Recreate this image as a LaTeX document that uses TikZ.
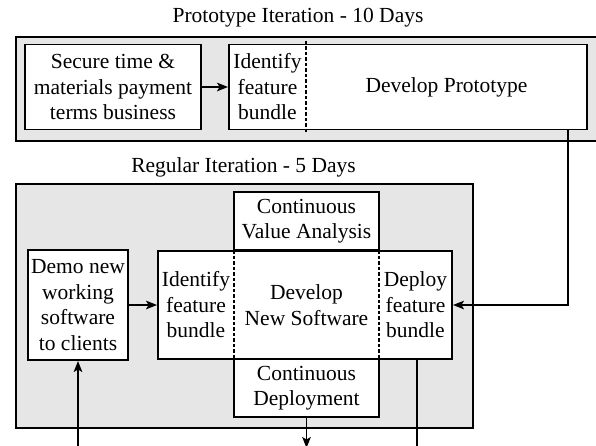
\documentclass[tikz,border=0pt]{standalone}
\usepackage{fontspec}
\setmainfont{Liberation Serif}
\usetikzlibrary{arrows.meta}
\definecolor{groupgray}{RGB}{230,230,230}
\begin{document}
\begin{tikzpicture}[x=1pt,y=-1pt,
  txt/.style={font=\fontsize{21.5}{25.5}\selectfont, align=center, inner sep=0pt},
  title/.style={font=\fontsize{21.5}{25.5}\selectfont, inner sep=0pt},
  box/.style={draw, line width=1.9pt, fill=white, inner sep=0pt, align=center,
              font=\fontsize{21.5}{25.5}\selectfont},
  group/.style={draw, line width=1.9pt, fill=groupgray, inner sep=0pt},
  divider/.style={line width=1.2pt, dash pattern=on 3.5pt off 2pt},
  arr/.style={line width=1.9pt, -{Stealth[length=11pt,width=8.5pt,inset=2.5pt]}},
  link/.style={line width=1.9pt}]
\useasboundingbox (0,0) rectangle (596,445);

% ---------- Prototype iteration ----------
\node[title] (protoTitle) at (298,18) {Prototype Iteration - 10 Days};
\node[group, minimum width=590, minimum height=104, anchor=north west] (protoGroup) at (15,36) {};
\node[box, minimum width=176, minimum height=85] (secure) at (113,87) {Secure time \&\\materials payment\\terms business};
\node[box, minimum width=358, minimum height=85] (devproto) at (408,87) {};
\node[txt] (protoIdentify) at (267.5,87) {Identify\\feature\\bundle};
\node[txt] (protoDevelop) at (446.5,87) {Develop Prototype};
\coordinate (pd) at (306,0);
\draw[divider] ([yshift=3pt]devproto.north -| pd) -- ([yshift=-3pt]devproto.south -| pd);
\draw[arr] (secure.east) -- (devproto.west);

% ---------- Regular iteration ----------
\node[title] (regTitle) at (243.5,167) {Regular Iteration - 5 Days};
\node[group, minimum width=457, minimum height=244, anchor=north west] (regGroup) at (15,183) {};
\node[box, minimum width=145, minimum height=58] (cva) at (306.5,221) {Continuous\\Value Analysis};
\node[box, minimum width=145, minimum height=58] (cd) at (306.5,388) {Continuous\\Deployment};
\node[box, minimum width=294, minimum height=108] (main) at (305,305) {};
\node[txt] (regIdentify) at (196,305) {Identify\\feature\\bundle};
\node[txt] (regDevelop) at (306.5,305) {Develop\\New Software};
\node[txt] (regDeploy) at (415.5,305) {Deploy\\feature\\bundle};
\coordinate (rd1) at (234,0);
\coordinate (rd2) at (379,0);
\draw[divider] (main.north -| rd1) -- (main.south -| rd1);
\draw[divider] (main.north -| rd2) -- (main.south -| rd2);
\node[box, minimum width=100, minimum height=110] (demo) at (78,305) {Demo new\\working\\software\\to clients};

% ---------- connectors ----------
\draw[arr] (demo.east) -- (main.west);
\draw[arr] ([xshift=-20pt]devproto.south east) |- (main.east);
\coordinate (inDemo) at (78,448);
\draw[arr] (inDemo) -- (demo.south);
\coordinate (outCD) at (306.5,448);
\draw[arr] (cd.south) -- (outCD);
\coordinate (outDeploy) at (417,448);
\draw[link] (outDeploy |- main.south) -- (outDeploy);
\end{tikzpicture}
\end{document}
